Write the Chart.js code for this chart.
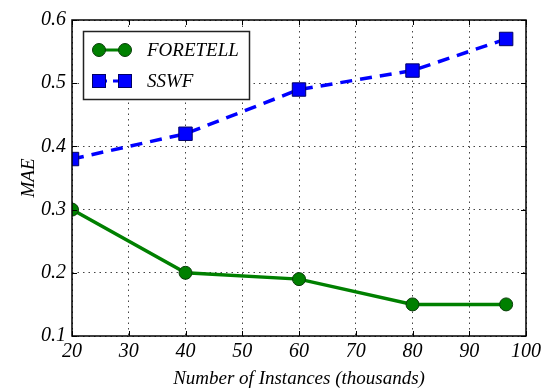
<!DOCTYPE html>
<html>
<head>
<meta charset="utf-8">
<script src="https://cdn.jsdelivr.net/npm/chart.js@4/dist/chart.umd.min.js"></script>
<style>
  html, body { margin: 0; padding: 0; background: #fff; }
  #wrap { width: 545px; height: 390px; }
</style>
</head>
<body>
<div id="wrap"><canvas id="chart" width="545" height="390"></canvas></div>
<script>
const xValues = [20, 40, 60, 80, 96.5];
const foretell = [0.30, 0.20, 0.19, 0.15, 0.15];
const sswf = [0.38, 0.42, 0.49, 0.52, 0.57];
const xTicks = [20, 30, 40, 50, 60, 70, 80, 90, 100];
const yTicks = [0.1, 0.2, 0.3, 0.4, 0.5, 0.6];

const serif = "'Liberation Serif', 'DejaVu Serif', serif";
const GREEN = '#008000';
const BLUE = '#0000ff';

// legend box + inward ticks, drawn by hand like matplotlib
const extras = {
  id: 'extras',
  afterDraw(chart) {
    const { ctx, chartArea: a, scales } = chart;
    ctx.save();
    ctx.strokeStyle = '#000';
    ctx.lineWidth = 1;
    ctx.beginPath();
    xTicks.forEach(v => {
      const px = Math.round(scales.x.getPixelForValue(v)) + 0.5;
      ctx.moveTo(px, a.bottom); ctx.lineTo(px, a.bottom - 5);
      ctx.moveTo(px, a.top); ctx.lineTo(px, a.top + 5);
    });
    yTicks.forEach(v => {
      const py = Math.round(scales.y.getPixelForValue(v)) + 0.5;
      ctx.moveTo(a.left, py); ctx.lineTo(a.left + 5, py);
      ctx.moveTo(a.right, py); ctx.lineTo(a.right - 5, py);
    });
    ctx.stroke();
    ctx.lineWidth = 1.5;
    ctx.strokeRect(a.left, a.top, a.right - a.left, a.bottom - a.top);

    // legend
    const lx = a.left + 11, ly = a.top + 11, lw = 166, lh = 68;
    ctx.fillStyle = '#fff';
    ctx.fillRect(lx, ly, lw, lh);
    ctx.strokeStyle = '#222';
    ctx.lineWidth = 1.5;
    ctx.strokeRect(lx + 0.5, ly + 0.5, lw, lh);

    const x1 = lx + 16, x2 = lx + 42;
    const y1 = ly + 19, y2 = ly + 50;
    ctx.lineWidth = 3;
    ctx.strokeStyle = GREEN;
    ctx.beginPath(); ctx.moveTo(x1, y1); ctx.lineTo(x2, y1); ctx.stroke();
    [x1, x2].forEach(x => {
      ctx.beginPath(); ctx.arc(x, y1, 6.5, 0, Math.PI * 2);
      ctx.fillStyle = GREEN; ctx.fill();
      ctx.lineWidth = 1; ctx.strokeStyle = '#0a3d0a'; ctx.stroke();
    });
    ctx.lineWidth = 3;
    ctx.strokeStyle = BLUE;
    ctx.setLineDash([8, 6]);
    ctx.beginPath(); ctx.moveTo(x1, y2); ctx.lineTo(x2, y2); ctx.stroke();
    ctx.setLineDash([]);
    [x1, x2].forEach(x => {
      ctx.fillStyle = BLUE; ctx.fillRect(x - 6.5, y2 - 6.5, 13, 13);
      ctx.lineWidth = 1; ctx.strokeStyle = '#000066'; ctx.strokeRect(x - 6.5, y2 - 6.5, 13, 13);
    });

    ctx.fillStyle = '#000';
    ctx.font = 'italic 19px ' + serif;
    ctx.textBaseline = 'middle';
    ctx.textAlign = 'left';
    ctx.fillText('FORETELL', lx + 64, y1 + 1);
    ctx.fillText('SSWF', lx + 64, y2 + 1);
    ctx.restore();
  }
};

new Chart(document.getElementById('chart'), {
  type: 'line',
  data: {
    datasets: [
      {
        label: 'FORETELL',
        data: xValues.map((x, i) => ({ x, y: foretell[i] })),
        borderColor: GREEN,
        backgroundColor: GREEN,
        borderWidth: 3.5,
        pointStyle: 'circle',
        pointRadius: 6.5,
        pointBorderColor: '#0a3d0a',
        pointBorderWidth: 1,
        tension: 0,
      },
      {
        label: 'SSWF',
        data: xValues.map((x, i) => ({ x, y: sswf[i] })),
        borderColor: BLUE,
        backgroundColor: BLUE,
        borderWidth: 3.5,
        borderDash: [12, 8],
        pointStyle: 'rect',
        pointRadius: 9.5,
        pointBorderColor: '#000066',
        pointBorderWidth: 1,
        tension: 0,
      },
    ],
  },
  options: {
    responsive: false,
    animation: false,
    layout: { padding: { top: 20, right: 19, left: 18, bottom: 0 } },
    plugins: {
      legend: { display: false },
      tooltip: { enabled: false },
    },
    scales: {
      x: {
        type: 'linear',
        min: 20,
        max: 100,
        afterBuildTicks: s => { s.ticks = xTicks.map(v => ({ value: v })); },
        afterFit: s => { s.height = 54; },
        border: { display: false, dash: [1.5, 4] },
        grid: { color: '#444', drawTicks: false, lineWidth: 1 },
        ticks: {
          color: '#000',
          padding: 4,
          font: { family: serif, style: 'italic', size: 20 },
          maxRotation: 0,
          callback: v => String(v),
        },
        title: {
          display: true,
          text: 'Number of Instances (thousands)',
          color: '#000',
          padding: { top: 0, bottom: 0 },
          font: { family: serif, style: 'italic', size: 19 },
        },
      },
      y: {
        type: 'linear',
        min: 0.1,
        max: 0.6,
        afterBuildTicks: s => { s.ticks = yTicks.map(v => ({ value: v })); },
        afterFit: s => { s.width = 54; },
        border: { display: false, dash: [1.5, 4] },
        grid: { color: '#444', drawTicks: false, lineWidth: 1 },
        ticks: {
          color: '#000',
          padding: 6,
          font: { family: serif, style: 'italic', size: 20 },
          callback: v => v.toFixed(1),
        },
        title: {
          display: true,
          text: 'MAE',
          color: '#000',
          padding: { top: 0, bottom: 0 },
          font: { family: serif, style: 'italic', size: 19 },
        },
      },
    },
  },
  plugins: [extras],
});
</script>
</body>
</html>
